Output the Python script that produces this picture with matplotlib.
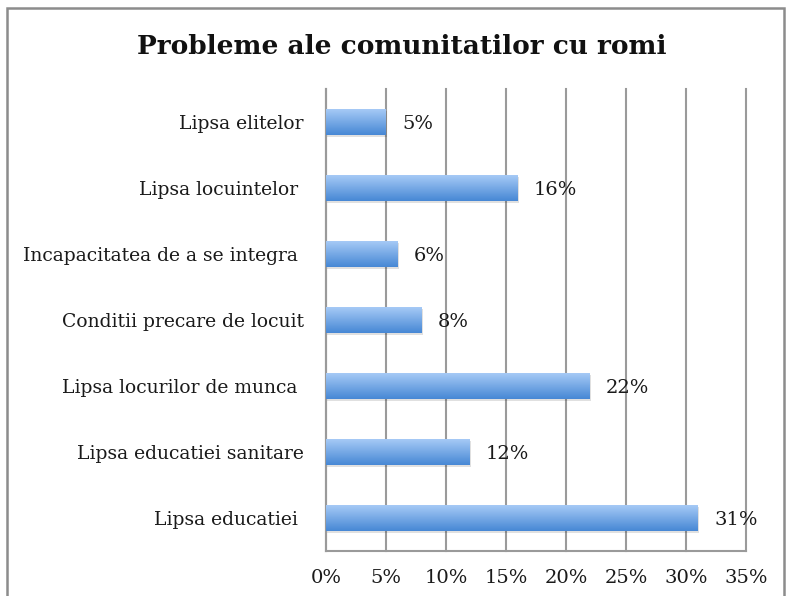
import numpy as np
import matplotlib
matplotlib.use("Agg")
import matplotlib.pyplot as plt
from matplotlib.colors import LinearSegmentedColormap
from matplotlib.patches import Rectangle

categories = ["Lipsa elitelor", "Lipsa locuintelor ", "Incapacitatea de a se integra ",
              "Conditii precare de locuit", "Lipsa locurilor de munca ",
              "Lipsa educatiei sanitare", "Lipsa educatiei "]
values = [5, 16, 6, 8, 22, 12, 31]
value_labels = ["5%", "16%", "6%", "8%", "22%", "12%", "31%"]
xticks = [0, 5, 10, 15, 20, 25, 30, 35]
xtick_labels = ["0%", "5%", "10%", "15%", "20%", "25%", "30%", "35%"]
title = "Probleme ale comunitatilor cu romi"

serif = ["DejaVu Serif"]

fig = plt.figure(figsize=(7.88, 5.96), dpi=100)
fig.patch.set_facecolor("white")
# outer chart frame
fig.add_artist(Rectangle((7/788, -0.05), (784-7)/788, 1.05 - 8/596, transform=fig.transFigure,
                         fill=False, edgecolor="#8c8c8c", linewidth=1.8))

ax = fig.add_axes([326/788, 1-551/596, (746-326)/788, (551-89)/596])
y = np.arange(len(categories))
bars = ax.barh(y, values, height=0.4, color="#6fa6e6", edgecolor="none", zorder=3)

cmap = LinearSegmentedColormap.from_list("g", ["#a9ccf7", "#4788d5"])
grad = np.linspace(0, 1, 64).reshape(-1, 1)
for b in bars:
    x0, y0, w, h = b.get_x(), b.get_y(), b.get_width(), b.get_height()
    sh = Rectangle((x0 + 0.08, y0 + 0.03), w, h, facecolor="#000000", alpha=0.12,
                   edgecolor="none", zorder=2)
    ax.add_patch(sh)
    im = ax.imshow(grad, extent=(x0, x0 + w, y0 + h, y0), cmap=cmap, aspect="auto",
                   zorder=4, interpolation="bilinear")
    im.set_clip_path(b)

for b, lab in zip(bars, value_labels):
    ax.annotate(lab, (b.get_width(), b.get_y() + b.get_height() / 2),
                xytext=(16, -2), textcoords="offset pixels", ha="left", va="center",
                fontsize=14, family=serif, color="#1a1a1a", zorder=5)

ax.set_xlim(0, 35)
ax.set_ylim(len(categories) - 0.5, -0.5)
ax.set_xticks(xticks)
ax.set_xticklabels(xtick_labels, fontsize=14, family=serif, color="#1a1a1a")
ax.set_yticks(y)
ax.set_yticklabels(categories, fontsize=13.5, family=serif, color="#1a1a1a")
ax.tick_params(axis="both", length=0)
ax.tick_params(axis="x", pad=13)
ax.tick_params(axis="y", pad=16)
ax.grid(axis="x", color="#9a9a9a", linewidth=1.5, zorder=0)
for gl in ax.get_xgridlines():
    gl.set_clip_on(False)
ax.set_axisbelow(True)
for s in ["top", "right"]:
    ax.spines[s].set_visible(False)
for s in ["left", "bottom"]:
    ax.spines[s].set_color("#9a9a9a")
    ax.spines[s].set_linewidth(1.5)

fig.text(402/788, 1 - 47/596, title, ha="center", va="center", fontsize=19,
         fontweight="bold", family=serif, color="#111111")

fig.savefig("out.png", dpi=100)
